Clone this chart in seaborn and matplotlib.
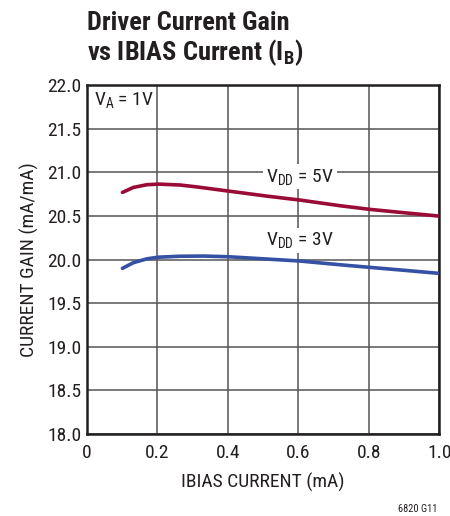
import matplotlib
matplotlib.use("Agg")
import matplotlib.pyplot as plt
import seaborn as sns
import pandas as pd

ibias_5v = [0.101, 0.132, 0.170, 0.203, 0.264, 0.312, 0.402, 0.510, 0.605, 0.719, 0.804, 0.90, 0.998]
gain_5v = [20.770, 20.827, 20.858, 20.865, 20.855, 20.833, 20.785, 20.728, 20.682, 20.617, 20.575, 20.537, 20.499]
ibias_3v = [0.101, 0.132, 0.170, 0.203, 0.264, 0.331, 0.402, 0.510, 0.605, 0.719, 0.804, 0.90, 0.998]
gain_3v = [19.899, 19.964, 20.008, 20.027, 20.038, 20.040, 20.032, 20.006, 19.983, 19.940, 19.910, 19.877, 19.842]
xticks = [0, 0.2, 0.4, 0.6, 0.8, 1.0]
xticklabels = ["0", "0.2", "0.4", "0.6", "0.8", "1.0"]
yticks = [18.0, 18.5, 19.0, 19.5, 20.0, 20.5, 21.0, 21.5, 22.0]

sns.set_theme(style="white")
fam = "Roboto Condensed"
plt.rcParams['font.family'] = [fam, 'DejaVu Sans']
plt.rcParams['mathtext.fontset'] = 'custom'
plt.rcParams['mathtext.rm'] = fam
plt.rcParams['mathtext.it'] = fam
plt.rcParams['mathtext.bf'] = fam + ':bold'

df = pd.DataFrame({
    "x": ibias_5v + ibias_3v,
    "y": gain_5v + gain_3v,
    "s": ["5V"] * len(ibias_5v) + ["3V"] * len(ibias_3v),
})

txt = "#231f20"
fig = plt.figure(figsize=(4.5, 5.16), dpi=100)
ax = fig.add_axes([0.193, 0.159, 0.783, 0.676])
sns.lineplot(data=df, x="x", y="y", hue="s", palette={"5V": "#9a0b35", "3V": "#3451a3"},
             linewidth=2.6, ax=ax, legend=False, zorder=3)
for l in ax.lines:
    l.set_solid_capstyle("round")
    l.set_solid_joinstyle("round")

ax.set_xlim(0, 1.0)
ax.set_ylim(18.0, 22.0)
ax.set_xticks(xticks)
ax.set_xticklabels(xticklabels)
ax.set_yticks(yticks)
ax.set_yticklabels([f"{v:.1f}" for v in yticks])
ax.grid(True, color="#555555", linewidth=1.1)
for sp in ax.spines.values():
    sp.set_color(txt)
    sp.set_linewidth(1.8)
ax.tick_params(axis="y", labelsize=14, colors=txt, length=0, pad=4)
ax.tick_params(axis="x", labelsize=14, colors=txt, length=0, pad=7)
ax.set_xlabel("IBIAS CURRENT (mA)", fontsize=14, color=txt, labelpad=8)
ax.set_ylabel("CURRENT GAIN (mA/mA)", fontsize=14, color=txt, labelpad=6)

bbox = dict(facecolor="white", edgecolor="none", pad=2)
ax.text(0.605, 20.95, r"V$_{\mathrm{DD}}$ = 5V", fontsize=14, color=txt,
        ha="center", va="center", bbox=bbox, zorder=4)
ax.text(0.605, 20.22, r"V$_{\mathrm{DD}}$ = 3V", fontsize=14, color=txt,
        ha="center", va="center", bbox=bbox, zorder=4)
ax.text(0.02, 21.83, r"V$_{\mathrm{A}}$ = 1V", fontsize=14, color=txt,
        ha="left", va="center", zorder=4)

fig.text(0.193, 0.955, "Driver Current Gain", fontsize=19, fontweight="bold",
         color=txt, ha="left", va="center")
fig.text(0.193, 0.897, r"vs IBIAS Current (I$_{\mathbf{B}}$)", fontsize=19, fontweight="bold",
         color=txt, ha="left", va="center")
fig.text(0.972, 0.014, "6820 G11", fontsize=7.5, color=txt, ha="right", va="center")

fig.savefig("out.png", dpi=100, facecolor="white")
